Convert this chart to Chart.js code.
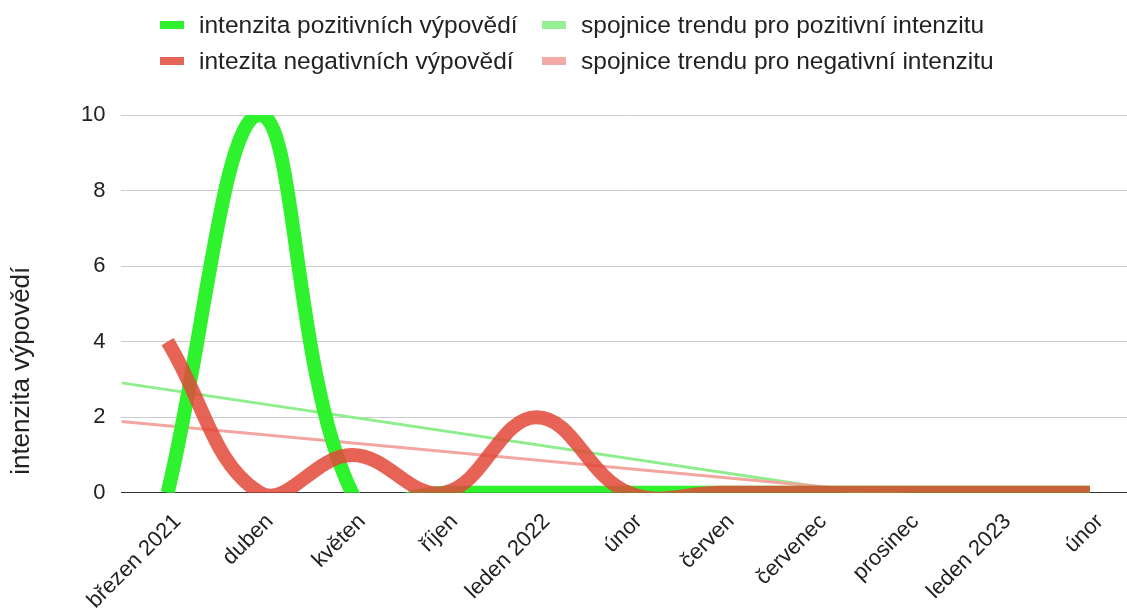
<!DOCTYPE html>
<html>
<head>
<meta charset="utf-8">
<script src="https://cdn.jsdelivr.net/npm/chart.js@4"></script>
<style>
  html, body { margin: 0; padding: 0; background: #fff; }
  #wrap { position: relative; width: 1127px; height: 610px; overflow: hidden; }
  /* canvas a bit larger than the page: the original plot runs past the right and bottom edge */
  #chart { position: absolute; left: 0; top: 0; }
  #legend {
    position: absolute; left: 160px; top: 13px;
    display: grid; grid-template-columns: 382px auto; row-gap: 12px;
    font: 24.5px "Liberation Sans", Arial, sans-serif; color: #222;
  }
  .item { display: flex; align-items: center; height: 24px; white-space: nowrap; }
  .box { width: 24px; height: 8px; margin-right: 15px; }
</style>
</head>
<body>
<div id="wrap">
  <canvas id="chart" width="1136" height="622"></canvas>
  <div id="legend"></div>
</div>
<script>
const labels = ['březen 2021', 'duben', 'květen', 'říjen', 'leden 2022', 'únor',
  'červen', 'červenec', 'prosinec', 'leden 2023', 'únor'];
const positive = [0, 10, 0, 0, 0, 0, 0, 0, 0, 0, 0];
const negative = [4, 0, 1, 0, 2, 0, 0, 0, 0, 0, 0];

// trend lines, read at the left and right edge of the plot (half a category outside)
const trendX = [-0.5, 10.5];
const positiveTrend = [2.91, -1.09];
const negativeTrend = [1.89, -0.61];

const yTicks = [0, 2, 4, 6, 8, 10];
const yTitle = 'intenzita výpovědí';

const names = [
  'intenzita pozitivních výpovědí',
  'spojnice trendu pro pozitivní intenzitu',
  'intezita negativních výpovědí',
  'spojnice trendu pro negativní intenzitu',
];
const GREEN = '#2ef22e';
const RED = 'rgba(226, 72, 56, 0.85)';
const GREEN_TREND = '#8eee8e';
const RED_TREND = '#f3a6a0';
const legendColors = [GREEN, '#95f095', '#e6655a', '#f4aaa6'];

const FONT = '"Liberation Sans", Arial, sans-serif';
const TEXT = '#222';

// html legend, two columns like the original
const legendEl = document.getElementById('legend');
names.forEach((name, i) => {
  const item = document.createElement('div');
  item.className = 'item';
  item.innerHTML = `<span class="box" style="background:${legendColors[i]}"></span>${name}`;
  legendEl.appendChild(item);
});

const trendPoints = (ys) => trendX.map((x, i) => ({ x, y: ys[i] }));

// y title sits a little above the bottom of the plot, not centred on it
const yTitlePlugin = {
  id: 'yTitle',
  afterDraw(chart) {
    const c = chart.ctx;
    c.save();
    c.translate(22, chart.chartArea.bottom - 18);
    c.rotate(-Math.PI / 2);
    c.font = `26px ${FONT}`;
    c.fillStyle = TEXT;
    c.textAlign = 'left';
    c.textBaseline = 'middle';
    c.fillText(yTitle, 0, 0);
    c.restore();
  },
};

// Chart.js paints dataset 0 last, so the red series comes first to sit on top
const ctx = document.getElementById('chart').getContext('2d');
new Chart(ctx, {
  type: 'line',
  data: {
    labels,
    datasets: [
      {
        label: names[2],
        data: negative,
        borderColor: RED,
        borderWidth: 14,
        pointRadius: 0,
        tension: 0.4,
      },
      {
        label: names[0],
        data: positive,
        borderColor: GREEN,
        borderWidth: 14,
        pointRadius: 0,
        tension: 0.4,
      },
      {
        label: names[3],
        data: trendPoints(negativeTrend),
        xAxisID: 'xTrend',
        borderColor: RED_TREND,
        borderWidth: 3,
        pointRadius: 0,
        tension: 0,
      },
      {
        label: names[1],
        data: trendPoints(positiveTrend),
        xAxisID: 'xTrend',
        borderColor: GREEN_TREND,
        borderWidth: 3,
        pointRadius: 0,
        tension: 0,
      },
    ],
  },
  plugins: [yTitlePlugin],
  options: {
    responsive: false,
    animation: false,
    elements: { line: { capBezierPoints: false, borderCapStyle: 'butt' } },
    layout: { padding: { top: 115, right: 0, bottom: 0, left: 65 } },
    plugins: {
      legend: { display: false },
      tooltip: { enabled: false },
    },
    scales: {
      x: {
        type: 'category',
        offset: true,
        grid: { display: false },
        border: { display: false },
        ticks: {
          autoSkip: false,
          minRotation: 45,
          maxRotation: 45,
          labelOffset: 10,
          padding: 8,
          color: TEXT,
          font: { family: FONT, size: 22 },
        },
      },
      xTrend: { type: 'linear', display: false, min: -0.5, max: 10.5 },
      y: {
        min: 0,
        max: 10,
        afterBuildTicks: (scale) => { scale.ticks = yTicks.map(v => ({ value: v })); },
        grid: {
          color: (c) => c.tick.value === 0 ? '#333' : '#ccc',
          drawTicks: false,
        },
        border: { display: false },
        ticks: { padding: 16, color: TEXT, font: { family: FONT, size: 22 } },
      },
    },
  },
});
</script>
</body>
</html>
